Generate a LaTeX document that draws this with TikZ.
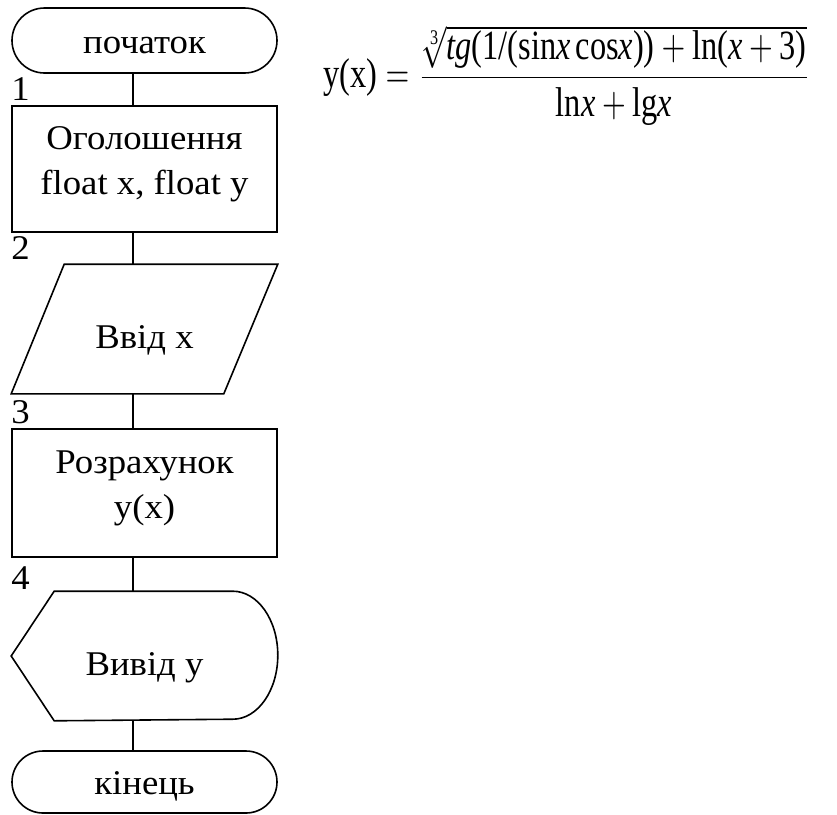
\documentclass[tikz,border=0pt]{standalone}
\usepackage{amsmath}
\usepackage{fontspec}
\setmainfont{Liberation Serif}[FakeStretch=1.06]
\usetikzlibrary{shapes.misc}
\newcommand\mainsize{\fontsize{26pt}{33.75pt}\selectfont}
\tikzset{
  blockbase/.style={minimum width=198.75pt, inner sep=0pt, align=center, font=\mainsize, line width=1.2pt},
  termbox/.style={blockbase, draw, rounded rectangle, text height=18.8pt, text depth=0pt},
  procbox/.style={blockbase, draw, rectangle, minimum height=96pt, text depth=13pt},
  framebox/.style={blockbase, rectangle, minimum height=96pt, text height=28.5pt, text depth=0pt},
  numlabel/.style={anchor=base west, inner sep=0pt, font=\mainsize},
  outline/.style={draw, line width=1.2pt}
}
\begin{document}
\begin{tikzpicture}[x=0.75pt,y=-0.75pt]
  \useasboundingbox (0,0) rectangle (837,814);
  \coordinate (spine) at (133,0);
  \node[termbox, minimum height=48.75pt] (start) at (144.5,40.5) {початок};
  \node[procbox, minimum height=94.5pt] (decl) at (144.5,169) {Оголошення\\float x, float y};
  \node[framebox] (inp) at (144.5,329) {Ввід x};
  \node[procbox] (calc) at (144.5,493) {Розрахунок\\y(x)};
  \node[framebox] (out) at (144.5,656) {Вивід y};
  \node[termbox, minimum height=46.5pt] (stop) at (144.5,782) {кінець};
  % input and output outlines
  \draw[outline] ([xshift=39.75pt]inp.north west) -- (inp.north east)
    -- ([xshift=-40.5pt]inp.south east) -- (inp.south west) -- cycle;
  \draw[outline] (out.west) -- ([xshift=32.25pt]out.north west)
    -- ([xshift=-33.75pt]out.north east)
    arc[start angle=90, end angle=-90, x radius=33.75pt, y radius=48pt]
    -- ([xshift=32.25pt]out.south west) -- cycle;
  % connectors
  \draw[outline] (start.south -| spine) -- (decl.north -| spine);
  \draw[outline] (decl.south -| spine) -- (inp.north -| spine);
  \draw[outline] (inp.south -| spine) -- (calc.north -| spine);
  \draw[outline] (calc.south -| spine) -- (out.north -| spine);
  \draw[outline] (out.south -| spine) -- (stop.north -| spine);
  % numbers
  \node[numlabel] (n1) at ([yshift=3.5pt]decl.north west) {1};
  \node[numlabel] (n2) at ([yshift=3.5pt]inp.north west) {2};
  \node[numlabel] (n3) at ([yshift=3.5pt]calc.north west) {3};
  \node[numlabel] (n4) at ([yshift=1.5pt]out.north west) {4};
  % formula
  \node[anchor=north west, inner sep=0pt] (formula) at (323,25)
    {\resizebox*{365.25pt}{75pt}{$\displaystyle \text{y(x)} = \frac{\sqrt[\text{3}]{\textit{tg}\text{(1/(sin}\textit{x}\,\text{cos}\textit{x}\text{))}+\text{ln(}\textit{x}+\text{3)}}}{\text{ln}\textit{x}+\text{lg}\textit{x}}$}};
\end{tikzpicture}
\end{document}
